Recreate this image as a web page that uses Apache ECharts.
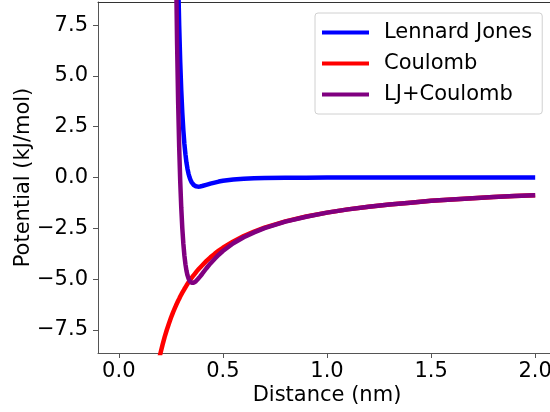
<!DOCTYPE html>
<html>
<head>
<meta charset="utf-8">
<script src="https://cdn.jsdelivr.net/npm/echarts@6/dist/echarts.min.js"></script>
<style>
html,body{margin:0;padding:0;background:#fff;}
#chart{width:550px;height:412px;}
</style>
</head>
<body>
<div id="chart"></div>
<script>
const distances = [0.195, 0.20, 0.21, 0.22, 0.23, 0.24, 0.25, 0.26,
  0.27, 0.275, 0.28, 0.285, 0.29, 0.295, 0.30, 0.305, 0.31, 0.315, 0.32, 0.325,
  0.33, 0.335, 0.34, 0.345, 0.35, 0.355, 0.36, 0.365, 0.37, 0.375, 0.38, 0.385, 0.39,
  0.40, 0.42, 0.44, 0.46, 0.48, 0.50, 0.55, 0.60, 0.65, 0.70,
  0.80, 0.90, 1.00, 1.10, 1.20, 1.30, 1.40, 1.50, 1.60, 1.70, 1.80, 1.90, 2.00];

const ljValues = [null, null, null, null, null, null, null, null,
  21.44, 16.53, 12.73, 9.77, 7.47, 5.67, 4.27, 3.17, 2.32, 1.65, 1.14, 0.73,
  0.42, 0.18, 0, -0.14, -0.24, -0.32, -0.37, -0.41, -0.43, -0.44, -0.45, -0.45, -0.44,
  -0.42, -0.36, -0.30, -0.25, -0.20, -0.16, -0.10, -0.06, -0.04, -0.02,
  -0.01, -0.01, 0, 0, 0, 0, 0, 0, 0, 0, 0, 0, 0];

const coulombValues = [-8.87, -8.65, -8.24, -7.86, -7.52, -7.21, -6.92, -6.65,
  -6.41, -6.29, -6.18, -6.07, -5.97, -5.86, -5.77, -5.67, -5.58, -5.49, -5.41, -5.32,
  -5.24, -5.16, -5.09, -5.01, -4.94, -4.87, -4.81, -4.74, -4.68, -4.61, -4.55, -4.49, -4.44,
  -4.33, -4.12, -3.93, -3.76, -3.60, -3.46, -3.15, -2.88, -2.66, -2.47,
  -2.16, -1.92, -1.73, -1.57, -1.44, -1.33, -1.24, -1.15, -1.08, -1.02, -0.96, -0.91, -0.87];

const totalValues = [null, null, null, null, null, null, null, null,
  15.04, 10.24, 6.55, 3.70, 1.50, -0.19, -1.50, -2.50, -3.26, -3.84, -4.27, -4.59,
  -4.82, -4.98, -5.09, -5.15, -5.18, -5.19, -5.18, -5.15, -5.11, -5.06, -5.00, -4.94, -4.88,
  -4.75, -4.48, -4.23, -4.01, -3.80, -3.62, -3.24, -2.94, -2.70, -2.49,
  -2.17, -1.93, -1.73, -1.57, -1.44, -1.33, -1.24, -1.15, -1.08, -1.02, -0.96, -0.91, -0.87];

const seriesNames = ['Lennard Jones', 'Coulomb', 'LJ+Coulomb'];
const xTicks = [0, 0.5, 1.0, 1.5, 2.0];
const yTicks = [-7.5, -5.0, -2.5, 0, 2.5, 5.0, 7.5];

const FONT = 'DejaVu Sans';
const FS = 21;
const fmt = v => v.toFixed(1).replace('-', '\u2212');
const pairs = vals => distances.map((d, i) => [d, vals[i]]);
const spine = '#555';

const chart = echarts.init(document.getElementById('chart'), null, {renderer: 'canvas'});
chart.setOption({
  animation: false,
  backgroundColor: '#fff',
  grid: {left: 98, top: 2, width: 458, height: 351, containLabel: false, outerBoundsMode: 'none'},
  legend: {
    orient: 'vertical',
    left: 315, top: 13,
    padding: [8, 10, 8, 7],
    itemWidth: 47, itemHeight: 4, itemGap: 8,
    icon: 'rect',
    backgroundColor: 'rgba(255,255,255,0.8)',
    borderColor: '#d0d0d0', borderWidth: 1, borderRadius: 3,
    textStyle: {fontFamily: FONT, fontSize: FS, color: '#000', lineHeight: 23, padding: [0, 0, 0, 10]},
    data: seriesNames
  },
  xAxis: [{
    type: 'value', min: -0.1, max: 2.1, position: 'bottom',
    axisLine: {show: true, onZero: false, lineStyle: {color: spine, width: 1}},
    axisTick: {show: true, inside: false, length: 5, customValues: xTicks, lineStyle: {color: spine, width: 1}},
    axisLabel: {customValues: xTicks, formatter: fmt, fontFamily: FONT, fontSize: FS, color: '#000', margin: 8},
    splitLine: {show: false},
    name: 'Distance (nm)', nameLocation: 'middle', nameGap: 32, nameMoveOverlap: false,
    nameTextStyle: {fontFamily: FONT, fontSize: FS, color: '#000'}
  }, {
    type: 'value', min: -0.1, max: 2.1, position: 'top',
    axisLine: {show: true, onZero: false, lineStyle: {color: '#333', width: 1}},
    axisTick: {show: false}, axisLabel: {show: false}, splitLine: {show: false}
  }],
  yAxis: {
    type: 'value', min: -8.64, max: 8.64,
    axisLine: {show: true, onZero: false, lineStyle: {color: spine, width: 1}},
    axisTick: {show: true, inside: false, length: 5, customValues: yTicks, lineStyle: {color: spine, width: 1}},
    axisLabel: {customValues: yTicks, formatter: fmt, fontFamily: FONT, fontSize: FS, color: '#000', margin: 10},
    splitLine: {show: false},
    name: 'Potential (kJ/mol)', nameLocation: 'middle', nameGap: 64, nameRotate: 90, nameMoveOverlap: false,
    nameTextStyle: {fontFamily: FONT, fontSize: FS, color: '#000'}
  },
  series: [
    {name: seriesNames[0], type: 'line', data: pairs(ljValues), showSymbol: false, symbol: 'none',
     clip: true, color: '#0000ff', lineStyle: {width: 4.5, color: '#0000ff'}, z: 2},
    {name: seriesNames[1], type: 'line', data: pairs(coulombValues), showSymbol: false, symbol: 'none',
     clip: true, color: '#ff0000', lineStyle: {width: 4.5, color: '#ff0000'}, z: 3},
    {name: seriesNames[2], type: 'line', data: pairs(totalValues), showSymbol: false, symbol: 'none',
     clip: true, color: '#800080', lineStyle: {width: 4.5, color: '#800080'}, z: 4}
  ]
});
</script>
</body>
</html>
